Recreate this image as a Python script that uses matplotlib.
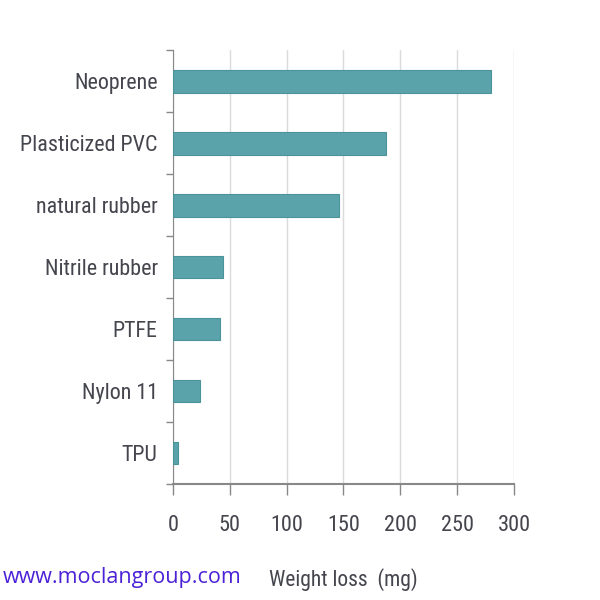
import matplotlib.pyplot as plt
from matplotlib import font_manager as fm

materials = ["Neoprene", "Plasticized PVC", "natural rubber", "Nitrile rubber",
             "PTFE", "Nylon 11", "TPU"]
weight_loss = [280, 187, 146, 44, 41, 24, 4]
x_ticks = [0, 50, 100, 150, 200, 250, 300]

# look for a narrow font file, else squeeze DejaVu
files = fm.findSystemFonts()
narrow_file = None
for key in ["LiberationSansNarrow-Regular", "RobotoCondensed-Regular", "Roboto_Condensed-Regular",
            "DejaVuSansCondensed.ttf", "NotoSans-Condensed", "Condensed"]:
    hits = [f for f in files if key in f and "Bold" not in f and "Italic" not in f and "Oblique" not in f]
    if hits:
        narrow_file = sorted(hits)[0]
        break

def fp(size):
    if narrow_file:
        return fm.FontProperties(fname=narrow_file, size=size)
    return fm.FontProperties(family="DejaVu Sans", size=size * 0.8)

txt = "#44454d"

fig = plt.figure(figsize=(6, 6), dpi=100)
ax = fig.add_axes([0.2883, 0.1933, 0.5683, 0.7233])

pos = list(range(len(materials)))
ax.barh(pos, weight_loss, height=0.37, color="#5ba3ab", edgecolor="#4a939b", linewidth=0.8, zorder=3)

ax.set_ylim(len(materials) - 0.5, -0.5)
ax.set_xlim(0, 300)
ax.set_yticks(pos)
ax.set_yticklabels(materials, fontproperties=fp(15.8), color=txt)
ax.set_yticks([p - 0.5 for p in pos] + [len(materials) - 0.5], minor=True)
ax.tick_params(axis="y", which="major", length=0, pad=11)
ax.tick_params(axis="y", which="minor", length=5, color="#888888", width=1)

ax.set_xticks(x_ticks)
ax.set_xticklabels([str(v) for v in x_ticks], fontproperties=fp(16), color=txt)
ax.tick_params(axis="x", length=8, color="#888888", width=1, pad=14)
ax.xaxis.grid(True, color="#dadada", linewidth=1, zorder=0)

for s in ["top", "right"]:
    ax.spines[s].set_visible(False)
ax.spines["left"].set_color("#888888")
ax.spines["bottom"].set_color("#888888")
ax.spines["bottom"].set_linewidth(1.5)

ax.set_xlabel("Weight loss  (mg)", fontproperties=fp(15.5), color=txt, labelpad=23)

fig.text(0.005, 0.037, "www.moclangroup.com", fontfamily="Open Sans", fontsize=15.5,
         color="#4b22d6", ha="left", va="center")

fig.savefig("out.png", dpi=100)
